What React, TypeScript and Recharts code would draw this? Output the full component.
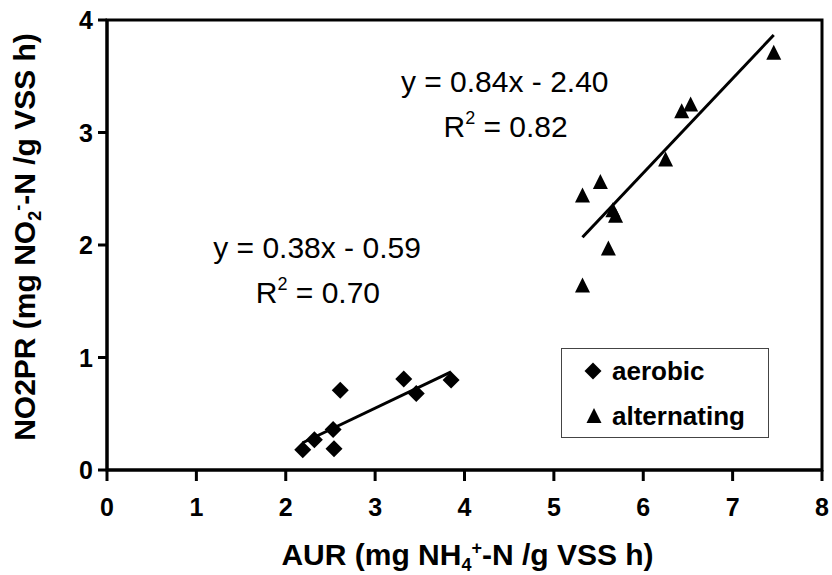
import React from 'react';
import {
  ScatterChart,
  Scatter,
  XAxis,
  YAxis,
  ReferenceArea,
  ReferenceLine,
  ReferenceDot,
  Legend,
  Label,
} from 'recharts';

// ---- data ----
const aerobicX = [2.19, 2.32, 2.53, 2.54, 2.61, 3.32, 3.46, 3.85];
const aerobicY = [0.18, 0.27, 0.36, 0.19, 0.71, 0.81, 0.68, 0.8];
const alternatingX = [5.32, 5.52, 5.66, 5.69, 5.61, 5.32, 6.25, 6.43, 6.53, 7.46];
const alternatingY = [2.44, 2.56, 2.31, 2.26, 1.97, 1.64, 2.76, 3.19, 3.25, 3.71];

const aerobicFit = { slope: 0.38, intercept: -0.59, r2: '0.70' };
const alternatingFit = { slope: 0.84, intercept: -2.4, r2: '0.82' };

const xTicks = [0, 1, 2, 3, 4, 5, 6, 7, 8];
const yTicks = [0, 1, 2, 3, 4];

const seriesNames = ['aerobic', 'alternating'];

// annotation anchor positions (data coordinates)
const aerobicEqPos = { x: 2.35, y: 1.885 };
const aerobicR2Pos = { x: 2.36, y: 1.485 };
const alternatingEqPos = { x: 4.45, y: 3.36 };
const alternatingR2Pos = { x: 4.46, y: 2.96 };

const FONT = '"Liberation Sans", Arial, sans-serif';

const aerobicData = aerobicX.map((x, i) => ({ x, y: aerobicY[i] }));
const alternatingData = alternatingX.map((x, i) => ({ x, y: alternatingY[i] }));

const fitSegment = (xs: number[], fit: { slope: number; intercept: number }) => {
  const x0 = Math.min(...xs);
  const x1 = Math.max(...xs);
  return [
    { x: x0, y: fit.slope * x0 + fit.intercept },
    { x: x1, y: fit.slope * x1 + fit.intercept },
  ];
};

const fmt = (v: number) => v.toFixed(2);
const eqText = (fit: { slope: number; intercept: number }) =>
  `y = ${fmt(fit.slope)}x ${fit.intercept < 0 ? '-' : '+'} ${fmt(Math.abs(fit.intercept))}`;

const Diamond = (props: any) => {
  const { cx, cy } = props;
  if (cx == null || cy == null) return null;
  const r = 8.5;
  return (
    <polygon
      points={`${cx},${cy - r} ${cx + r},${cy} ${cx},${cy + r} ${cx - r},${cy}`}
      fill="#000"
    />
  );
};

const Triangle = (props: any) => {
  const { cx, cy } = props;
  if (cx == null || cy == null) return null;
  const w = 7.5;
  const h = 14;
  return (
    <polygon
      points={`${cx},${cy - h / 2 - 1} ${cx + w},${cy + h / 2} ${cx - w},${cy + h / 2}`}
      fill="#000"
    />
  );
};

const XTick = (props: any) => {
  const { x, y, payload } = props;
  return (
    <g>
      <rect x={x - 1.5} y={y} width={3} height={11} fill="#000" />
      <text x={x} y={y + 46} textAnchor="middle" fontFamily={FONT} fontSize={25} fontWeight="bold" fill="#000">
        {payload.value}
      </text>
    </g>
  );
};

const YTick = (props: any) => {
  const { x, y, payload } = props;
  return (
    <g>
      <rect x={x - 9} y={y - 1.5} width={9} height={3} fill="#000" />
      <text x={x - 14} y={y + 9} textAnchor="end" fontFamily={FONT} fontSize={25} fontWeight="bold" fill="#000">
        {payload.value}
      </text>
    </g>
  );
};

const EqShape = (text: string) => (props: any) => (
  <text x={props.cx} y={props.cy} textAnchor="middle" fontFamily={FONT} fontSize={30} fill="#000">
    {text}
  </text>
);

const R2Shape = (value: string) => (props: any) => (
  <text x={props.cx} y={props.cy} textAnchor="middle" fontFamily={FONT} fontSize={30} fill="#000">
    <tspan>R</tspan>
    <tspan fontSize={18} dy={-13}>2</tspan>
    <tspan dy={13}>{` = ${value}`}</tspan>
  </text>
);

const XTitle = (props: any) => {
  const vb = props.viewBox || { x: 0, y: 0, width: 0, height: 0 };
  const cx = vb.x + vb.width / 2 + 3;
  const y = vb.y + 95;
  return (
    <text x={cx} y={y} textAnchor="middle" fontFamily={FONT} fontSize={30} fontWeight="bold" fill="#000">
      <tspan>AUR (mg NH</tspan>
      <tspan fontSize={18} dy={6}>4</tspan>
      <tspan fontSize={18} dy={-17}>+</tspan>
      <tspan dy={11}>-N /g VSS h)</tspan>
    </text>
  );
};

const YTitle = (props: any) => {
  const vb = props.viewBox || { x: 0, y: 0, width: 0, height: 0 };
  const cx = 24;
  const cy = vb.y + vb.height / 2 - 8;
  return (
    <text
      x={cx}
      y={cy}
      dy={11}
      transform={`rotate(-90, ${cx}, ${cy})`}
      textAnchor="middle"
      fontFamily={FONT}
      fontSize={30}
      fontWeight="bold"
      fill="#000"
    >
      <tspan>NO2PR (mg NO</tspan>
      <tspan fontSize={18} dy={6}>2</tspan>
      <tspan fontSize={18} dy={-17}>-</tspan>
      <tspan dy={11}>-N /g VSS h)</tspan>
    </text>
  );
};

const LegendBox = () => (
  <svg width={208} height={90} style={{ display: 'block' }}>
    <rect x={0.5} y={0.5} width={207} height={89} fill="#fff" stroke="#444" strokeWidth={1} />
    <Diamond cx={32} cy={23} />
    <text x={51} y={32} fontFamily={FONT} fontSize={26} fontWeight="bold" fill="#000">
      {seriesNames[0]}
    </text>
    <Triangle cx={33} cy={68} />
    <text x={51} y={77} fontFamily={FONT} fontSize={26} fontWeight="bold" fill="#000">
      {seriesNames[1]}
    </text>
  </svg>
);

export default function App() {
  return (
    <div style={{ position: 'absolute', left: 0, top: 0, width: 832, height: 575, background: '#fff' }}>
      <ScatterChart width={832} height={575} margin={{ top: 20, right: 10, bottom: 0, left: 0 }}>
        <XAxis
          type="number"
          dataKey="x"
          domain={[0, 8]}
          ticks={xTicks}
          height={105}
          tickSize={0}
          tickMargin={0}
          tickLine={false}
          axisLine={{ stroke: '#000', strokeWidth: 3 }}
          tick={XTick}
          interval={0}
          allowDataOverflow
        >
          <Label content={XTitle} />
        </XAxis>
        <YAxis
          type="number"
          dataKey="y"
          domain={[0, 4]}
          ticks={yTicks}
          width={107}
          tickSize={0}
          tickMargin={0}
          tickLine={false}
          axisLine={{ stroke: '#000', strokeWidth: 3 }}
          tick={YTick}
          interval={0}
          allowDataOverflow
        >
          <Label content={YTitle} />
        </YAxis>
        <ReferenceArea x1={0} x2={8} y1={0} y2={4} fill="none" stroke="#000" strokeWidth={3} ifOverflow="visible" />
        <ReferenceLine
          segment={fitSegment(aerobicX, aerobicFit)}
          stroke="#000"
          strokeWidth={3}
          ifOverflow="visible"
        />
        <ReferenceLine
          segment={fitSegment(alternatingX, alternatingFit)}
          stroke="#000"
          strokeWidth={3}
          ifOverflow="visible"
        />
        <Scatter name={seriesNames[0]} data={aerobicData} shape={Diamond} isAnimationActive={false} />
        <Scatter name={seriesNames[1]} data={alternatingData} shape={Triangle} isAnimationActive={false} />
        <ReferenceDot x={aerobicEqPos.x} y={aerobicEqPos.y} r={0} shape={EqShape(eqText(aerobicFit))} ifOverflow="visible" />
        <ReferenceDot x={aerobicR2Pos.x} y={aerobicR2Pos.y} r={0} shape={R2Shape(aerobicFit.r2)} ifOverflow="visible" />
        <ReferenceDot x={alternatingEqPos.x} y={alternatingEqPos.y} r={0} shape={EqShape(eqText(alternatingFit))} ifOverflow="visible" />
        <ReferenceDot x={alternatingR2Pos.x} y={alternatingR2Pos.y} r={0} shape={R2Shape(alternatingFit.r2)} ifOverflow="visible" />
        <Legend
          layout="vertical"
          align="center"
          verticalAlign="middle"
          content={LegendBox}
          wrapperStyle={{ left: 561, top: 348, width: 208, height: 90, right: 'auto', bottom: 'auto' }}
        />
      </ScatterChart>
    </div>
  );
}
